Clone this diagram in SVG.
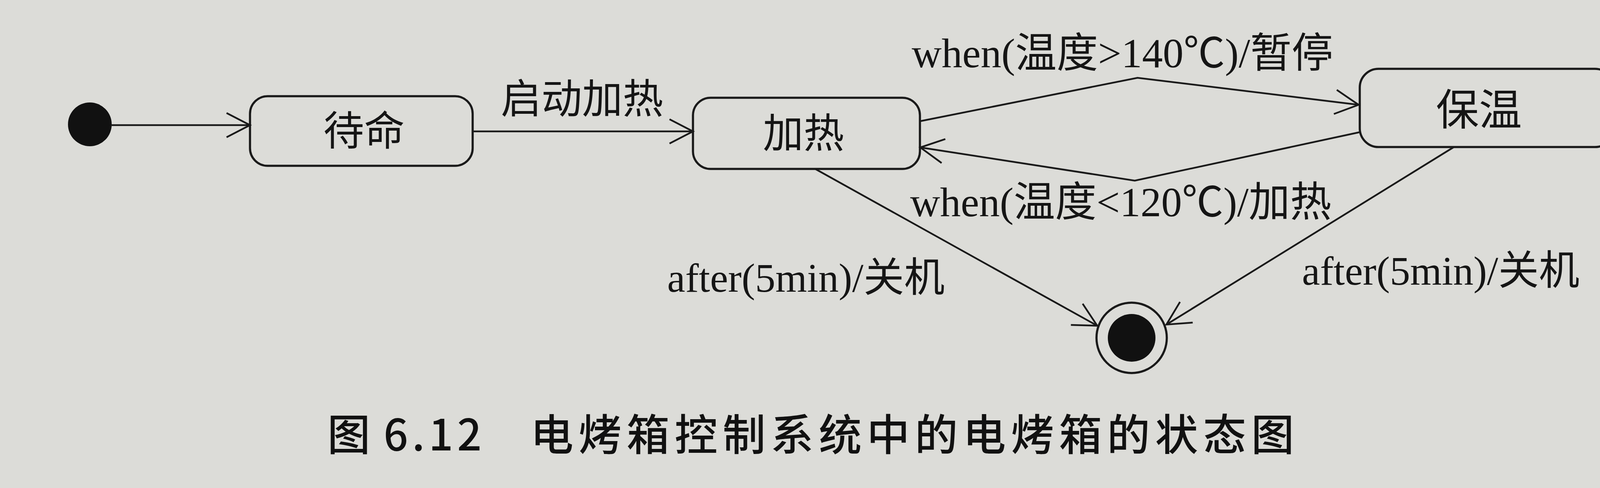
<svg xmlns="http://www.w3.org/2000/svg" width="4409" height="1248" viewBox="0 0 4409 1248">
<style>
.bg{fill:#dcdcd8}
.state{fill:none;stroke:#1a1a1a;stroke-width:5.5}
.conn{fill:none;stroke:#1a1a1a;stroke-width:4.5}
.cjk{font-family:"Noto Sans CJK SC",sans-serif;fill:#151515}
.lbl{font-family:"Liberation Serif","Noto Sans CJK SC",serif;fill:#151515}
.cap{font-family:"Noto Sans CJK SC",sans-serif;font-weight:500;fill:#111}
.ink{fill:#111}
</style>
<defs>
<marker id="open" markerUnits="userSpaceOnUse" markerWidth="90" markerHeight="90" viewBox="-75 -45 90 90" refX="0" refY="0" orient="auto" overflow="visible">
<path d="M -60 -31 L 0 0 L -60 31" fill="none" stroke="#1a1a1a" stroke-width="4.5"/>
</marker>
</defs>
<rect class="bg" x="0" y="0" width="4409" height="1248"/>

<g id="initial">
<circle class="ink" cx="230" cy="318" r="56"/>
</g>

<g id="standby">
<rect class="state" x="640" y="246" width="570" height="178" rx="45" ry="45"/>
<text class="cjk" x="932" y="372" font-size="104" text-anchor="middle">待命</text>
</g>

<g id="heating">
<rect class="state" x="1774" y="250" width="581" height="182" rx="45" ry="45"/>
<text class="cjk" x="2057" y="378" font-size="104" text-anchor="middle">加热</text>
</g>

<g id="keepwarm">
<rect class="state" x="3481" y="176" width="650" height="200" rx="48" ry="48"/>
<text class="cjk" x="3786" y="320" font-size="110" text-anchor="middle">保温</text>
</g>

<g id="final">
<circle class="state" cx="2897" cy="864" r="90"/>
<circle class="ink" cx="2897" cy="864" r="61"/>
</g>

<g id="connectors">
<line class="conn" x1="286" y1="320" x2="640" y2="320" marker-end="url(#open)"/>
<line class="conn" x1="1210" y1="336" x2="1774" y2="336" marker-end="url(#open)"/>
<polyline class="conn" points="2355,310 2912,199 3478,268" marker-end="url(#open)"/>
<polyline class="conn" points="3481,338 2905,462 2356,377" marker-end="url(#open)"/>
<line class="conn" x1="2087" y1="432" x2="2809" y2="833" marker-end="url(#open)"/>
<line class="conn" x1="3722" y1="376" x2="2986" y2="830" marker-end="url(#open)"/>
<text class="cjk" x="1282" y="290" font-size="104">启动加热</text>
<text class="lbl" x="2334" y="172" font-size="106">when(温度&gt;140℃)/暂停</text>
<text class="lbl" x="2330" y="553" font-size="106">when(温度&lt;120℃)/加热</text>
<text class="lbl" x="1708" y="746" font-size="104">after(5min)/关机</text>
<text class="lbl" x="3333" y="728" font-size="104">after(5min)/关机</text>
</g>

<g id="caption">
<text class="cap" y="1152" font-size="110"><tspan x="838">图</tspan><tspan x="982" letter-spacing="10">6.12</tspan><tspan x="1358" letter-spacing="13">电烤箱控制系统中的电烤箱的状态图</tspan></text>
</g>
</svg>
